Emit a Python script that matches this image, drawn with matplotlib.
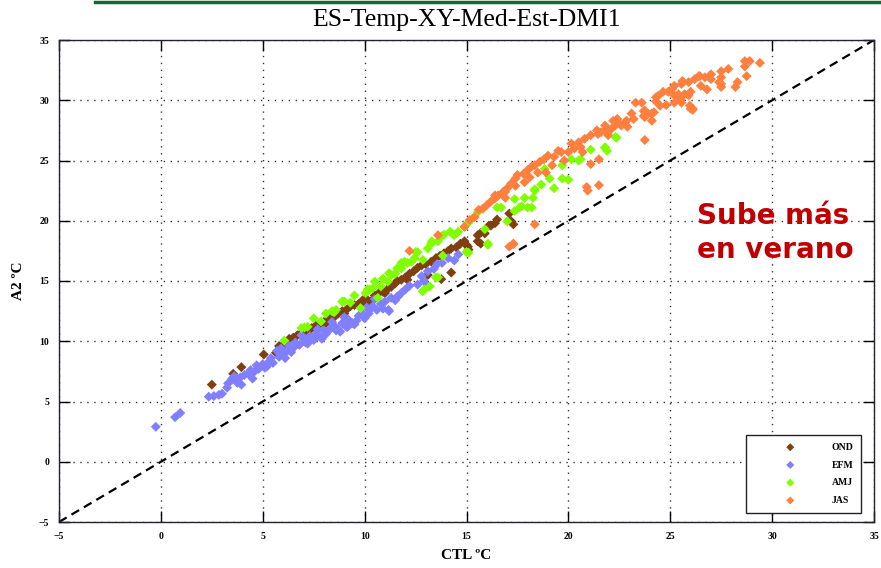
import matplotlib
matplotlib.use("Agg")
import matplotlib.pyplot as plt
from matplotlib.lines import Line2D

title = "ES-Temp-XY-Med-Est-DMI1"
xlabel = "CTL ºC"
ylabel = "A2 ºC"
series_names = ["OND", "EFM", "AMJ", "JAS"]
series_colors = ["#7F3F0F", "#7F7FFF", "#7FFF00", "#FF7F3F"]
ticks = [-5, 0, 5, 10, 15, 20, 25, 30, 35]
annotation = "Sube más\nen verano"

ond_x = [2.5, 3.55, 3.95, 5.05, 5.65, 5.8, 6.1, 6.3, 6.5, 6.7, 6.9, 7.1, 7.2, 7.4, 7.6, 7.8, 8.0, 8.2,
         8.35, 8.5, 8.7, 8.9, 9.1, 9.3, 9.5, 9.7, 9.9, 10.1, 10.3, 10.5, 10.7, 10.9, 11.1, 11.3, 11.5,
         11.6, 11.8, 12.0, 12.2, 12.4, 12.6, 12.8, 13.0, 13.27, 13.5, 13.7, 13.9, 14.1, 14.25, 14.5,
         14.7, 14.9, 15.0, 15.1, 13.1, 14.25, 13.76, 15.55, 15.7, 15.9, 16.1, 16.4, 16.5, 17.1, 17.2,
         17.3, 15.7, 15.55, 16.2, 15.07, 6.0, 7.0, 8.1, 9.0, 10.0, 11.0, 12.1]
ond_y = [6.4, 7.3, 7.85, 8.9, 9.05, 9.6, 9.9, 10.2, 10.3, 10.5, 10.7, 10.9, 10.6, 11.1, 11.3, 11.4, 11.6, 11.8,
         12.2, 12.0, 12.3, 12.5, 12.6, 12.9, 13.0, 13.1, 13.4, 13.5, 13.3, 13.8, 14.0, 14.1, 14.3, 14.5, 14.8,
         15.0, 15.1, 15.3, 15.6, 15.8, 16.1, 16.3, 16.4, 16.6, 16.9, 17.1, 17.3, 17.5, 17.7, 17.8,
         18.1, 18.3, 18.0, 17.6, 15.5, 15.7, 15.15, 18.3, 19.0, 18.95, 19.6, 19.8, 20.1, 20.6, 19.95,
         19.7, 18.1, 18.8, 19.6, 17.85, 9.6, 10.5, 11.5, 12.3, 13.1, 14.0, 15.1]

efm_x = [-0.25, 0.7, 0.95, 2.35, 2.6, 2.85, 3.0, 3.25, 3.3, 3.5, 3.75, 3.95, 3.6, 3.9, 4.1, 4.3, 4.5, 4.4,
         4.6, 4.8, 5.0, 5.1, 5.3, 5.4, 5.5, 5.7, 5.8, 6.0, 6.2, 6.3, 6.5, 6.6, 6.8, 7.0, 7.1, 7.3, 7.5,
         7.6, 7.8, 8.0, 8.1, 8.3, 8.5, 8.6, 8.8, 8.9, 9.1, 9.2, 9.4, 9.6, 9.7, 9.9, 10.0, 10.2, 10.25,
         10.4, 10.6, 10.8, 11.0, 11.2, 11.3, 11.6, 11.8, 12.0, 12.2, 12.6, 12.9, 13.1, 12.8, 13.1, 13.4,
         13.56, 13.8, 14.1, 14.4, 14.6, 9.17, 11.17, 11.63, 4.7, 5.9, 6.9, 7.7, 8.4, 9.0, 10.5,
         5.2, 6.1, 6.4, 7.2, 7.9, 8.7, 9.5, 10.1, 10.9, 11.5]
efm_y = [2.9, 3.7, 4.05, 5.4, 5.45, 5.55, 5.65, 6.15, 6.5, 6.9, 6.55, 6.4, 7.1, 7.0, 7.2, 7.3, 6.9, 7.6,
         7.5, 7.7, 8.1, 7.8, 8.3, 8.6, 8.2, 9.2, 8.7, 8.9, 9.2, 9.6, 9.45, 9.9, 9.7, 10.2, 9.9, 10.4, 10.1,
         10.6, 10.4, 10.9, 10.6, 11.0, 11.3, 10.9, 10.8, 11.5, 11.2, 11.8, 11.5, 11.7, 12.1, 12.3, 11.9, 12.3, 12.6,
         12.9, 12.6, 13.1, 13.3, 12.5, 13.6, 13.7, 14.0, 14.3, 14.6, 14.7, 15.0, 14.55, 15.4, 15.8, 16.0,
         16.4, 16.5, 16.9, 16.7, 17.2, 11.2, 12.6, 13.7, 8.0, 9.4, 10.5, 11.0, 11.6, 12.0, 13.5,
         7.9, 8.6, 9.1, 9.8, 10.2, 11.0, 11.4, 12.8, 12.7, 13.4]

amj_x = [6.06, 6.9, 7.05, 7.2, 7.86, 8.4, 8.5, 8.6, 8.9, 9.0, 9.3, 9.8, 10.05, 10.15, 10.24, 10.4, 10.5,
         10.65, 10.8, 11.14, 11.2, 11.3, 11.6, 11.8, 11.8, 11.96, 12.1, 12.3, 12.45, 12.5, 12.6, 12.86,
         12.85, 12.94, 13.2, 13.1, 13.27, 13.3, 13.5, 13.6, 13.6, 13.76, 13.84, 13.9, 14.2, 14.4, 14.6,
         14.9, 15.0, 15.07, 15.1, 15.3, 15.55, 15.9, 16.05, 16.05, 16.5, 16.7, 17.0, 17.36, 17.36, 17.6,
         17.7, 17.85, 18.0, 18.2, 18.26, 18.35, 18.35, 18.67, 18.84, 19.08, 19.3, 19.7, 20.0, 19.7,
         20.15, 20.5, 20.6, 21.1, 21.8, 21.8, 21.9, 22.3, 22.36, 7.5, 8.1, 9.5, 10.9, 11.5]
amj_y = [10.05, 11.1, 11.15, 11.2, 11.65, 12.5, 12.4, 12.6, 13.3, 13.3, 13.2, 12.75, 14.0, 14.3, 14.3, 14.4, 14.95,
         13.6, 14.55, 14.95, 15.65, 15.5, 16.05, 16.05, 16.5, 16.6, 16.5, 16.6, 16.9, 17.4, 17.4, 16.75,
         14.15, 14.3, 14.55, 17.7, 18.1, 18.3, 15.3, 15.3, 18.3, 18.7, 17.1, 18.85, 19.1, 18.8, 19.1,
         19.5, 17.4, 19.8, 17.35, 20.2, 20.7, 19.3, 18.0, 18.1, 21.1, 21.1, 19.95, 20.8, 21.8, 21.1,
         21.2, 21.9, 21.1, 21.1, 21.9, 22.5, 22.6, 23.0, 24.3, 23.5, 22.7, 23.5, 23.4, 24.6,
         25.1, 25.0, 25.1, 25.9, 26.05, 26.1, 25.8, 26.95, 26.9, 11.9, 12.3, 13.8, 15.2, 15.6]

jas_x = [12.2, 13.6, 14.9, 15.15, 15.4, 15.8, 16.0, 16.2, 16.4, 16.4, 16.55, 16.8, 16.9, 17.0, 17.2, 17.4,
         17.4, 17.5, 17.8, 17.85, 18.0, 18.1, 18.2, 18.35, 18.6, 18.8, 19.0, 19.3, 19.5, 19.65, 20.0,
         20.15, 20.3, 20.5, 20.6, 20.8, 21.1, 21.4, 21.45, 21.6, 21.8, 21.8, 21.95, 21.95, 22.1, 22.2,
         22.3, 22.4, 22.4, 22.6, 22.8, 22.85, 23.1, 23.2, 23.3, 23.6, 23.7, 23.7, 23.75, 23.75, 23.9,
         24.1, 24.1, 24.2, 24.3, 24.3, 24.4, 24.5, 24.65, 24.9, 25.1, 25.2, 25.2, 25.2, 25.4, 25.5,
         25.55, 25.55, 25.6, 25.7, 25.9, 25.9, 25.96, 26.0, 26.1, 26.1, 26.2, 26.4, 26.45, 26.5, 26.7,
         27.0, 27.0, 27.4, 27.5, 27.5, 27.5, 27.5, 27.85, 28.2, 28.3, 28.66, 28.66, 28.75, 28.9, 29.4,
         17.1, 17.3, 17.3, 18.35, 20.9, 20.95, 21.5, 23.75, 21.1, 21.5, 26.0, 19.2, 18.9,
         15.6, 16.9, 18.5, 19.8, 20.7, 22.9, 24.8, 26.8]
jas_y = [17.5, 18.8, 19.5, 20.05, 20.3, 21.0, 21.3, 21.6, 21.85, 22.1, 22.1, 22.4, 22.4, 22.7, 23.1, 23.5,
         22.9, 23.8, 23.9, 23.2, 24.2, 23.6, 24.5, 24.6, 24.9, 25.1, 25.4, 25.3, 25.8, 25.7, 25.7,
         26.4, 26.0, 26.5, 26.1, 26.8, 27.1, 27.5, 27.2, 27.35, 27.5, 27.9, 27.1, 27.5, 27.6, 28.3,
         27.9, 28.2, 28.45, 27.9, 28.2, 28.3, 28.9, 28.45, 29.8, 29.8, 28.7, 29.1, 29.15, 28.6, 28.9,
         28.9, 28.3, 29.0, 29.9, 30.25, 30.35, 29.55, 30.7, 30.7, 30.95, 31.2, 30.4, 29.8, 30.5, 30.1,
         29.8, 31.35, 31.6, 30.5, 30.4, 31.5, 29.55, 30.7, 29.3, 29.2, 31.75, 32.0, 32.0, 31.2, 31.9,
         32.15, 31.75, 31.5, 31.9, 31.35, 31.1, 32.4, 32.6, 31.1, 31.5, 32.8, 33.25, 32.0, 33.25, 33.1,
         17.85, 18.05, 18.1, 19.7, 22.8, 22.5, 22.95, 26.7, 24.7, 25.1, 29.3, 24.6, 24.0,
         20.9, 21.9, 24.0, 25.0, 25.7, 27.8, 29.6, 30.9]

serif = ["Liberation Serif", "DejaVu Serif"]

fig = plt.figure(figsize=(8.81, 5.68), dpi=100)
ax = fig.add_axes([59 / 881, 46 / 568, 815 / 881, 482 / 568])

# top decorative green rule
fig.add_artist(Line2D([95 / 881, 1.0], [1 - 1.5 / 568, 1 - 1.5 / 568], transform=fig.transFigure,
                      color="#0A6B35", lw=2.5))

data = [(ond_x, ond_y), (efm_x, efm_y), (amj_x, amj_y), (jas_x, jas_y)]
for (xs, ys), name, col in zip(data, series_names, series_colors):
    ax.scatter(xs, ys, s=26, marker="D", color=col, edgecolors="none", label=name, zorder=3)

ax.plot([ticks[0], ticks[-1]], [ticks[0], ticks[-1]], linestyle=(0, (4, 2.5)), color="black", lw=1.6, zorder=2)

ax.set_xlim(ticks[0], ticks[-1])
ax.set_ylim(ticks[0], ticks[-1])
ax.set_xticks(ticks)
ax.set_yticks(ticks)
ax.grid(True, linestyle=(0, (1, 4)), color="#333333", lw=1.0)
ax.tick_params(direction="in", length=8, width=1, top=True, right=True, pad=7)
for lab in ax.get_xticklabels() + ax.get_yticklabels():
    lab.set_family(serif)
    lab.set_fontweight("bold")
    lab.set_fontsize(7)
for sp in ax.spines.values():
    sp.set_linewidth(1.0)
    sp.set_color("#222233")

ax.set_xlabel(xlabel, family=serif, fontweight="bold", fontsize=11, labelpad=6)
ax.set_ylabel(ylabel, family=serif, fontweight="bold", fontsize=11, labelpad=10)
fig.text(467 / 881, 1 - 20 / 568, title, family=serif, fontsize=18.5, ha="center", va="center")

leg = ax.legend(loc="upper left", bbox_to_anchor=((746 - 59) / 815, (522 - 435) / 482),
                prop={"family": serif, "weight": "bold", "size": 7}, frameon=True, fancybox=False,
                edgecolor="#222222", framealpha=1, handlelength=7.5, handletextpad=0.5,
                labelspacing=0.9, borderpad=0.8, borderaxespad=0, scatterpoints=1, markerscale=0.8)
leg.get_frame().set_linewidth(1.0)

fig.text(697 / 881, 1 - 233 / 568, annotation, color="#C00000", fontsize=20, fontweight="bold",
         family=["DejaVu Sans"], ha="left", va="center", linespacing=1.25)

fig.savefig("out.png", dpi=100)
